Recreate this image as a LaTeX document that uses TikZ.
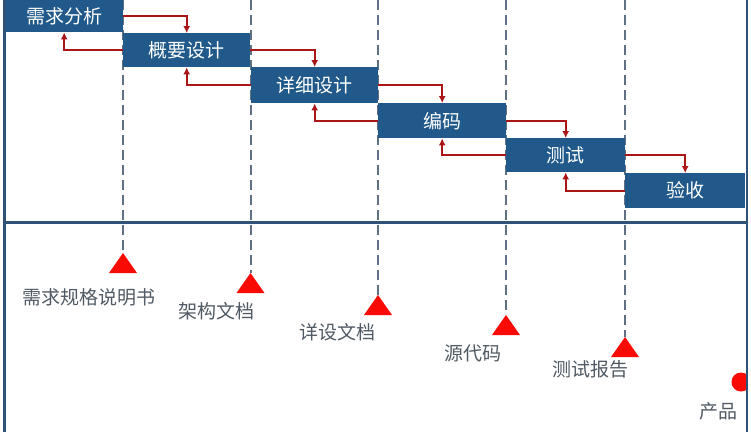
\documentclass[tikz,border=0pt]{standalone}
\usepackage{fontspec}
\setmainfont{Noto Sans CJK SC}
\usepackage{xcolor,tikz}
\usetikzlibrary{arrows.meta,positioning,calc}
\definecolor{phaseblue}{RGB}{33,90,138}
\definecolor{flowred}{RGB}{170,22,22}
\definecolor{guidegray}{RGB}{95,112,132}
\definecolor{docgray}{RGB}{80,90,100}
\definecolor{framecol}{RGB}{48,82,118}
\definecolor{markred}{RGB}{250,10,5}
\tikzset{
  phase/.style={fill=phaseblue,text=white,inner sep=0pt,anchor=north west,minimum height=34pt,font=\fontsize{19}{22}\selectfont},
  flow/.style={draw=flowred,line width=2pt,-{Latex[length=7pt,width=7pt]}},
  guide/.style={draw=guidegray,line width=2pt,dash pattern=on 10pt off 5pt},
  doc/.style={text=docgray,inner sep=0pt,font=\fontsize{19}{22}\selectfont},
  milestone/.style={fill=markred}
}
\begin{document}
\begin{tikzpicture}[x=1pt,y=-1pt]
\useasboundingbox[fill=white] (0,0) rectangle (751,432);
% apexes of the milestone marks
\coordinate (m1) at (123,253); \coordinate (m2) at (250.5,273); \coordinate (m3) at (378,295);
\coordinate (m4) at (506,315); \coordinate (m5) at (625,337);
\foreach \m in {m1,m2,m3,m4,m5}{\draw[guide] (\m |- 0,0) -- (\m); \fill[milestone] (\m) -- ++(14,20) -- ++(-28,0) -- cycle;}
\draw[framecol,line width=2.2pt] (4.5,222.5) -- (746.5,222.5);
\node[phase,minimum width=118pt,minimum height=32pt] (req) at (5,0) {需求分析};
\node[phase,minimum width=127pt] (outline) at (123,33) {概要设计};
\node[phase,minimum width=127pt,minimum height=36pt] (detail) at (251,67) {详细设计};
\node[phase,minimum width=128pt,minimum height=35pt] (code) at (378,103) {编码};
\node[phase,minimum width=119pt] (test) at (506,138) {测试};
\node[phase,minimum width=120pt,minimum height=35pt] (accept) at (625,173) {验收};
\draw[flow] (req.east) -| (outline.north); \draw[flow] (outline.west) -| (req.south);
\draw[flow] (outline.east) -| (detail.north); \draw[flow] (detail.west) -| (outline.south);
\draw[flow] (detail.east) -| (code.north); \draw[flow] (code.west) -| (detail.south);
\draw[flow] (code.east) -| (test.north); \draw[flow] (test.west) -| (code.south);
\draw[flow] (test.east) -| (accept.north); \draw[flow] (accept.west) -| (test.south);
\node[doc] (spec) at (88.5,297) {需求规格说明书};
\node[doc] (arch) at (216,311) {架构文档};
\node[doc] (design) at (337,332) {详设文档};
\node[doc] (src) at (473,353) {源代码};
\node[doc] (report) at (590,369) {测试报告};
\node[doc] (prod) at (718,411) {产品};
\begin{scope}
\clip (0,0) rectangle (746,432);
\fill[milestone] (741,382) circle (9.5);
\end{scope}
\draw[framecol,line width=2.5pt] (4.5,0) -- (4.5,432);
\draw[framecol,line width=2.5pt] (747,0) -- (747,432);
\end{tikzpicture}
\end{document}
